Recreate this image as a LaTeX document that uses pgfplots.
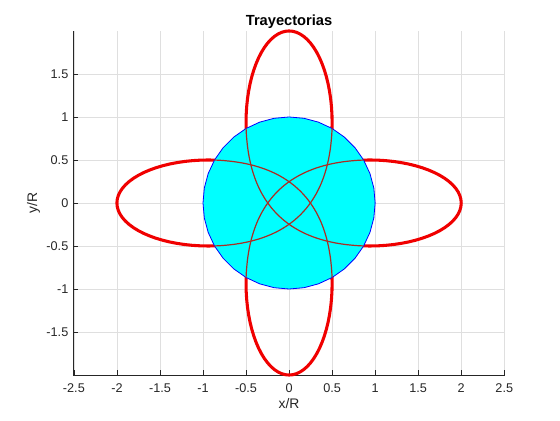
\documentclass[border=0pt]{standalone}
\usepackage{fontspec}
\setmainfont{Liberation Sans}
\usepackage{pgfplots}
\usepackage{pgfplotstable}
\pgfplotsset{compat=1.18}

\definecolor{gridgray}{RGB}{223,223,223}
\definecolor{axgray}{RGB}{38,38,38}
\definecolor{trajred}{RGB}{240,0,0}
\definecolor{innerred}{RGB}{170,45,35}
\definecolor{planetfill}{RGB}{0,255,255}
\definecolor{planetedge}{RGB}{0,0,255}

% outer lobe with apoapsis at -2R (left one); nx = -lx for the mirrored copies
\pgfplotstableread{
lx ly nx
0.1250 0.0000 -0.1250
0.1210 0.0436 -0.1210
0.1089 0.0868 -0.1089
0.0888 0.1294 -0.0888
0.0609 0.1710 -0.0609
0.0254 0.2113 -0.0254
-0.0173 0.2500 0.0173
-0.0671 0.2868 0.0671
-0.1236 0.3214 0.1236
-0.1862 0.3536 0.1862
-0.2545 0.3830 0.2545
-0.3281 0.4096 0.3281
-0.4063 0.4330 0.4063
-0.4885 0.4532 0.4885
-0.5741 0.4698 0.5741
-0.6625 0.4830 0.6625
-0.7530 0.4924 0.7530
-0.8449 0.4981 0.8449
-0.9375 0.5000 0.9375
-1.0301 0.4981 1.0301
-1.1220 0.4924 1.1220
-1.2125 0.4830 1.2125
-1.3009 0.4698 1.3009
-1.3865 0.4532 1.3865
-1.4688 0.4330 1.4688
-1.5469 0.4096 1.5469
-1.6205 0.3830 1.6205
-1.6888 0.3536 1.6888
-1.7514 0.3214 1.7514
-1.8079 0.2868 1.8079
-1.8577 0.2500 1.8577
-1.9005 0.2113 1.9005
-1.9359 0.1710 1.9359
-1.9638 0.1294 1.9638
-1.9839 0.0868 1.9839
-1.9960 0.0436 1.9960
-2.0000 0.0000 2.0000
-1.9960 -0.0436 1.9960
-1.9839 -0.0868 1.9839
-1.9638 -0.1294 1.9638
-1.9359 -0.1710 1.9359
-1.9005 -0.2113 1.9005
-1.8577 -0.2500 1.8577
-1.8079 -0.2868 1.8079
-1.7514 -0.3214 1.7514
-1.6888 -0.3536 1.6888
-1.6205 -0.3830 1.6205
-1.5469 -0.4096 1.5469
-1.4688 -0.4330 1.4688
-1.3865 -0.4532 1.3865
-1.3009 -0.4698 1.3009
-1.2125 -0.4830 1.2125
-1.1220 -0.4924 1.1220
-1.0301 -0.4981 1.0301
-0.9375 -0.5000 0.9375
-0.8449 -0.4981 0.8449
-0.7530 -0.4924 0.7530
-0.6625 -0.4830 0.6625
-0.5741 -0.4698 0.5741
-0.4885 -0.4532 0.4885
-0.4063 -0.4330 0.4063
-0.3281 -0.4096 0.3281
-0.2545 -0.3830 0.2545
-0.1862 -0.3536 0.1862
-0.1236 -0.3214 0.1236
-0.0671 -0.2868 0.0671
-0.0173 -0.2500 0.0173
0.0254 -0.2113 -0.0254
0.0609 -0.1710 -0.0609
0.0888 -0.1294 -0.0888
0.1089 -0.0868 -0.1089
0.1210 -0.0436 -0.1210
0.1250 0.0000 -0.1250
}\orbit

% path inside the planet, from the left lobe to the bottom lobe
\pgfplotstableread{
ax ay nax nay
-0.8668 0.4994 0.8668 -0.4994
-0.7781 0.4947 0.7781 -0.4947
-0.6495 0.4819 0.6495 -0.4819
-0.5277 0.4623 0.5277 -0.4623
-0.4126 0.4359 0.4126 -0.4359
-0.3044 0.4027 0.3044 -0.4027
-0.2030 0.3627 0.2030 -0.3627
-0.1085 0.3158 0.1085 -0.3158
-0.0207 0.2621 0.0207 -0.2621
0.0602 0.2017 -0.0602 -0.2017
0.1344 0.1344 -0.1344 -0.1344
0.2017 0.0602 -0.2017 -0.0602
0.2621 -0.0207 -0.2621 0.0207
0.3158 -0.1085 -0.3158 0.1085
0.3627 -0.2030 -0.3627 0.2030
0.4027 -0.3044 -0.4027 0.3044
0.4359 -0.4126 -0.4359 0.4126
0.4623 -0.5277 -0.4623 0.5277
0.4819 -0.6495 -0.4819 0.6495
0.4947 -0.7781 -0.4947 0.7781
0.4994 -0.8668 -0.4994 0.8668
}\inner

% planet, radius R
\pgfplotstableread{
cx cy
1.0000 0.0000
0.9848 0.1736
0.9397 0.3420
0.8660 0.5000
0.7660 0.6428
0.6428 0.7660
0.5000 0.8660
0.3420 0.9397
0.1736 0.9848
0.0000 1.0000
-0.1736 0.9848
-0.3420 0.9397
-0.5000 0.8660
-0.6428 0.7660
-0.7660 0.6428
-0.8660 0.5000
-0.9397 0.3420
-0.9848 0.1736
-1.0000 0.0000
-0.9848 -0.1736
-0.9397 -0.3420
-0.8660 -0.5000
-0.7660 -0.6428
-0.6428 -0.7660
-0.5000 -0.8660
-0.3420 -0.9397
-0.1736 -0.9848
0.0000 -1.0000
0.1736 -0.9848
0.3420 -0.9397
0.5000 -0.8660
0.6428 -0.7660
0.7660 -0.6428
0.8660 -0.5000
0.9397 -0.3420
0.9848 -0.1736
1.0000 0.0000
}\planet

\begin{document}
\begin{tikzpicture}
\begin{axis}[
    scale only axis,
    width=324pt, height=258pt,
    xmin=-2.51, xmax=2.51,
    ymin=-2, ymax=2,
    clip=false,
    axis x line*=bottom, axis y line*=left,
    axis line style={axgray, line width=0.5pt, -},
    xtick={-2.5,-2,...,2.5},
    ytick={-1.5,-1,...,1.5},
    tick align=inside,
    major tick length=4pt,
    tick style={axgray, line width=0.5pt},
    grid=major,
    major grid style={gridgray, line width=0.5pt},
    ticklabel style={font=\fontsize{9.5}{11}\selectfont, text=axgray},
    xticklabel style={yshift=-3pt},
    /pgf/number format/assume math mode=true,
    title={\bfseries Trayectorias},
    title style={font=\fontsize{11}{13}\selectfont, yshift=-7.5pt},
    xlabel={x/R}, ylabel={y/R},
    label style={font=\fontsize{10.4}{12}\selectfont, text=axgray},
    xlabel style={yshift=2.5pt},
    ylabel style={yshift=-2pt},
]
\path (rel axis cs:-0.169,-0.131) rectangle (rel axis cs:1.127,1.090);

\addplot[trajred, line width=2.3pt, line join=round] table[x=lx, y=ly] {\orbit};
\addplot[trajred, line width=2.3pt, line join=round] table[x=nx, y=ly] {\orbit};
\addplot[trajred, line width=2.3pt, line join=round] table[x=ly, y=nx] {\orbit};
\addplot[trajred, line width=2.3pt, line join=round] table[x=ly, y=lx] {\orbit};

\addplot[draw=planetedge, line width=0.6pt, fill=planetfill] table[x=cx, y=cy] {\planet} -- cycle;

\addplot[innerred, line width=0.9pt, smooth] table[x=ax, y=ay] {\inner};
\addplot[innerred, line width=0.9pt, smooth] table[x=nay, y=ax] {\inner};
\addplot[innerred, line width=0.9pt, smooth] table[x=nax, y=nay] {\inner};
\addplot[innerred, line width=0.9pt, smooth] table[x=ay, y=nax] {\inner};
\end{axis}
\end{tikzpicture}
\end{document}
